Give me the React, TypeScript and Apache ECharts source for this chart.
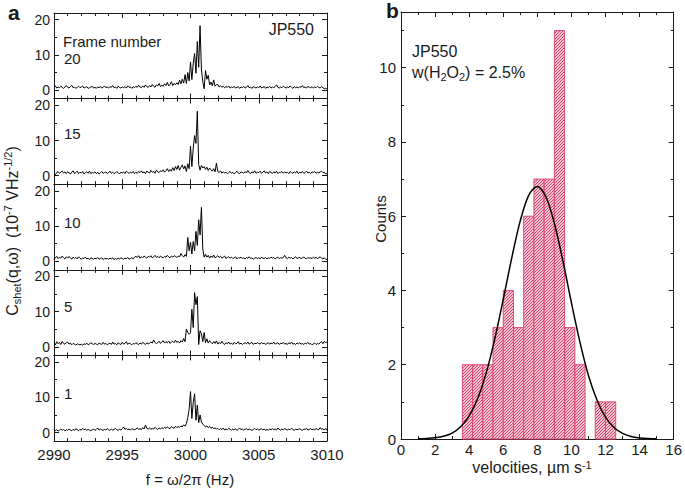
import React, { useEffect, useRef } from 'react';
import * as echarts from 'echarts';

// ---------- Panel a: spectra (frequency grid 2990..3010 Hz, step 0.1 Hz) ----------
const FREQ_START = 2990;
const FREQ_STEP = 0.1;
const FRAME_LABELS = ['20', '15', '10', '5', '1'];

const SPEC_20 = [
  1.0, 1.2, 0.6, 0.9, 0.7, 1.1, 0.8, 0.5, 0.9, 1.3,
  0.8, 0.6, 1.0, 1.4, 0.7, 0.9, 0.5, 0.8, 1.1, 0.7,
  0.9, 1.2, 0.6, 0.8, 1.0, 0.5, 0.7, 0.9, 1.1, 0.6,
  0.8, 0.5, 0.9, 0.7, 1.0, 0.6, 0.8, 1.2, 0.7, 0.9,
  0.6, 1.0, 0.8, 1.3, 0.7, 0.9, 0.5, 1.1, 0.8, 0.6,
  0.9, 0.7, 1.0, 0.6, 1.2, 0.8, 0.9, 0.5, 1.0, 0.7,
  1.1, 0.8, 1.4, 0.9, 0.7, 1.2, 0.8, 1.5, 1.0, 0.8,
  1.3, 0.9, 1.6, 1.1, 0.8, 1.5, 1.2, 1.9, 1.0, 1.4,
  1.1, 1.8, 1.3, 2.2, 1.2, 1.6, 2.4, 1.3, 1.9, 1.5,
  2.1, 1.6, 2.8, 1.8, 3.1, 2.0, 4.4, 1.9, 5.0, 2.6,
  8.0, 3.0, 7.6, 10.4, 4.8, 13.8, 6.5, 18.3, 6.0, 2.4,
  0.4, 5.6, 3.1, 4.2, 1.5, 2.3, 1.2, 2.9, 1.1, 1.6,
  1.6, 0.9, 1.3, 0.8, 1.1, 0.7, 1.0, 0.8, 1.2, 0.6,
  0.9, 0.7, 1.1, 0.6, 0.8, 1.0, 0.5, 0.9, 0.7, 1.1,
  0.6, 0.8, 1.3, 0.7, 0.9, 0.5, 1.0, 0.8, 0.6, 0.9,
  0.7, 1.2, 0.6, 0.8, 1.0, 0.5, 0.9, 0.7, 1.1, 0.6,
  0.9, 0.7, 1.0, 1.5, 0.8, 0.6, 0.9, 0.7, 1.1, 0.8,
  0.6, 0.9, 0.7, 1.2, 0.8, 0.5, 1.0, 0.7, 0.9, 0.6,
  1.0, 0.8, 1.3, 0.7, 0.9, 0.6, 1.1, 0.8, 0.7, 1.0,
  0.6, 0.9, 0.7, 1.1, 0.8, 0.6, 1.0, 0.7, 0.4, 0.5,
  0.3,
];

const SPEC_15 = [
  0.6, 0.3, 0.9, 1.2, 0.7, 1.0, 1.3, 0.8, 1.1, 0.6,
  1.2, 0.8, 0.5, 1.0, 1.4, 0.7, 0.9, 1.3, 0.6, 1.0,
  0.8, 1.2, 0.5, 0.9, 1.1, 0.7, 1.3, 0.6, 0.9, 0.8,
  1.1, 0.6, 1.0, 0.5, 0.8, 1.2, 0.7, 0.9, 1.1, 0.6,
  0.9, 1.3, 0.7, 1.0, 0.6, 0.8, 1.2, 0.9, 0.5, 1.0,
  0.8, 1.1, 0.6, 1.3, 0.9, 0.7, 1.0, 0.8, 1.2, 0.6,
  1.0, 0.7, 1.2, 0.9, 1.4, 0.8, 1.1, 0.6, 1.3, 1.0,
  0.8, 1.5, 1.0, 1.2, 0.7, 1.6, 1.1, 0.9, 1.4, 1.2,
  1.7, 1.0, 1.4, 2.0, 1.2, 1.8, 1.3, 2.3, 1.5, 2.6,
  1.8, 2.9, 1.6, 2.4, 3.1, 1.9, 2.8, 1.2, 3.4, 2.0,
  8.4, 2.6, 7.8, 11.4, 9.2, 18.3, 3.2, 1.6, 2.9, 2.2,
  2.6, 1.8, 2.4, 1.5, 2.2, 1.7, 1.3, 2.0, 1.1, 3.6,
  1.2, 0.9, 1.4, 0.7, 1.1, 0.8, 1.0, 0.6, 0.9, 1.2,
  0.7, 1.0, 0.5, 0.9, 1.3, 0.8, 0.6, 1.1, 0.9, 0.7,
  1.2, 0.8, 1.5, 0.9, 0.6, 1.1, 0.8, 1.4, 0.7, 1.0,
  0.9, 1.3, 0.7, 1.0, 1.4, 0.8, 1.1, 0.6, 1.2, 0.9,
  0.7, 1.1, 0.8, 1.3, 0.6, 1.0, 0.9, 1.2, 0.7, 1.1,
  0.8, 1.0, 0.6, 1.2, 0.9, 0.7, 1.1, 0.8, 1.3, 0.6,
  1.0, 0.8, 1.2, 0.7, 0.9, 1.3, 0.8, 1.0, 0.6, 1.1,
  0.9, 1.2, 0.7, 1.0, 0.8, 1.1, 1.3, 0.9, 1.0, 0.5,
  0.6,
];

const SPEC_10 = [
  0.5, 1.0, 1.4, 0.8, 1.2, 0.9, 1.5, 1.0, 0.7, 1.3,
  0.9, 1.4, 1.0, 0.6, 1.2, 0.8, 1.1, 0.7, 1.3, 0.9,
  0.6, 1.0, 0.8, 1.2, 0.7, 0.9, 0.5, 1.0, 0.8, 0.6,
  0.9, 0.7, 1.1, 0.6, 0.8, 1.0, 0.5, 0.9, 0.7, 0.8,
  0.6, 0.9, 0.7, 1.0, 0.5, 0.8, 0.6, 0.9, 0.7, 1.0,
  0.8, 0.6, 0.9, 0.7, 1.1, 0.6, 0.8, 1.0, 0.7, 1.2,
  1.4, 1.1, 1.6, 0.9, 1.3, 1.0, 1.5, 1.2, 0.9, 1.4,
  1.2, 1.6, 1.0, 1.3, 1.7, 1.1, 1.4, 1.0, 1.5, 1.2,
  1.0, 1.4, 1.2, 1.7, 1.3, 1.0, 1.5, 1.2, 1.6, 1.4,
  1.1, 1.5, 1.3, 2.2, 1.6, 1.2, 1.9, 1.4, 6.8, 3.0,
  5.4, 2.1, 5.6, 3.0, 8.5, 4.5, 11.8, 7.5, 15.3, 3.5,
  1.2, 2.0, 1.2, 1.7, 0.9, 1.5, 1.1, 1.8, 1.0, 1.3,
  1.6, 1.1, 1.4, 0.9, 1.2, 1.5, 0.8, 1.1, 1.3, 0.9,
  1.2, 0.8, 1.0, 1.3, 0.7, 1.1, 0.9, 1.2, 0.8, 1.0,
  0.7, 1.1, 0.9, 1.3, 0.8, 1.0, 0.6, 0.9, 1.1, 0.8,
  1.0, 0.7, 1.2, 0.9, 0.8, 1.1, 0.7, 1.0, 0.8, 1.2,
  0.9, 1.1, 0.7, 1.0, 1.2, 0.8, 1.0, 0.9, 1.1, 1.7,
  1.0, 0.8, 1.2, 0.9, 1.1, 0.7, 1.0, 1.3, 0.8, 1.0,
  1.1, 0.8, 1.0, 1.2, 0.9, 0.7, 1.1, 0.9, 1.0, 0.8,
  1.2, 0.9, 1.1, 0.8, 1.0, 1.3, 0.9, 0.7, 1.0, 0.6,
  0.5,
];

const SPEC_5 = [
  1.2, 0.6, 1.5, 0.9, 1.3, 0.7, 1.6, 1.0, 0.8, 1.2,
  1.4, 0.8, 1.1, 0.6, 1.0, 0.8, 0.5, 0.9, 0.7, 0.6,
  0.8, 0.5, 0.9, 0.7, 1.1, 0.6, 0.8, 1.2, 0.9, 0.7,
  1.0, 0.8, 0.6, 1.1, 0.9, 0.7, 1.3, 0.8, 1.0, 0.6,
  0.9, 1.1, 0.7, 1.4, 0.8, 1.0, 0.6, 1.2, 0.9, 0.7,
  1.3, 0.8, 1.0, 1.5, 0.7, 1.1, 0.9, 0.6, 1.0, 0.8,
  1.2, 0.9, 0.7, 1.1, 0.8, 1.3, 1.0, 0.7, 1.2, 0.9,
  1.0, 1.4, 1.1, 2.0, 1.3, 0.9, 1.2, 1.6, 1.0, 1.4,
  1.8, 1.1, 1.5, 1.2, 1.7, 1.0, 1.4, 1.6, 1.2, 1.9,
  1.3, 1.6, 1.1, 1.8, 1.4, 2.4, 1.5, 5.1, 4.1, 3.6,
  4.0, 10.7, 5.5, 15.4, 12.0, 14.3, 0.7, 4.6, 3.8, 1.5,
  4.1, 1.2, 2.3, 1.1, 1.8, 1.3, 0.9, 1.5, 1.0, 1.7,
  0.8, 1.3, 0.9, 1.6, 1.0, 0.7, 1.2, 0.9, 1.4, 0.8,
  1.1, 0.7, 1.3, 0.9, 1.0, 1.5, 0.8, 1.1, 0.7, 1.0,
  1.2, 0.9, 1.4, 0.8, 1.0, 1.3, 0.7, 1.1, 0.9, 1.2,
  1.0, 0.8, 1.3, 0.9, 1.1, 0.7, 1.0, 1.2, 0.8, 1.1,
  0.9, 1.4, 0.8, 1.0, 1.2, 0.7, 1.1, 0.9, 1.3, 0.8,
  1.0, 0.7, 1.2, 0.9, 1.4, 0.8, 1.0, 0.7, 1.1, 0.9,
  1.2, 0.8, 1.0, 0.7, 1.1, 0.9, 1.3, 0.8, 1.0, 0.6,
  0.9, 1.1, 0.7, 1.0, 0.8, 1.2, 1.5, 0.9, 1.6, 1.2,
  1.4,
];

const SPEC_1 = [
  0.9, 0.5, 0.8, 0.4, 0.7, 1.0, 0.6, 0.9, 0.5, 0.8,
  0.6, 1.0, 0.7, 0.5, 0.9, 0.6, 1.1, 0.8, 0.5, 0.9,
  0.7, 1.2, 0.8, 1.0, 0.6, 0.9, 0.7, 0.5, 0.8, 1.0,
  0.6, 0.9, 1.3, 0.7, 1.0, 0.8, 0.6, 0.9, 0.7, 1.1,
  0.8, 0.6, 1.0, 0.7, 0.9, 1.2, 0.8, 0.6, 1.0, 0.7,
  1.1, 1.6, 0.9, 1.2, 0.8, 1.0, 0.7, 1.1, 0.9, 0.8,
  1.0, 1.3, 0.9, 1.1, 0.8, 1.4, 1.0, 2.1, 1.2, 1.0,
  1.3, 0.9, 1.2, 1.0, 1.5, 1.1, 0.9, 1.3, 1.0, 1.4,
  1.1, 1.5, 1.2, 1.6, 1.3, 1.1, 1.7, 1.4, 1.2, 1.8,
  1.4, 1.7, 1.5, 1.9, 1.6, 2.2, 1.8, 2.5, 4.2, 6.6,
  11.6, 4.0, 8.5, 11.0, 3.5, 7.8, 2.8, 5.0, 3.0, 2.4,
  2.0, 1.6, 1.9, 1.4, 1.7, 1.2, 1.5, 1.1, 1.3, 1.0,
  1.2, 0.8, 1.1, 0.9, 1.3, 0.7, 1.0, 0.8, 1.2, 0.9,
  0.7, 1.0, 0.8, 1.1, 0.6, 0.9, 1.3, 0.8, 1.0, 0.7,
  0.9, 1.1, 0.7, 1.0, 0.8, 0.6, 0.9, 1.2, 0.8, 1.0,
  0.7, 0.9, 1.1, 0.8, 1.0, 0.6, 0.9, 0.7, 1.0, 0.8,
  1.1, 0.8, 1.0, 0.7, 1.3, 0.9, 0.7, 1.0, 0.8, 1.1,
  0.9, 0.7, 1.0, 0.8, 1.2, 0.9, 0.6, 1.0, 0.8, 0.9,
  1.1, 0.8, 0.6, 1.0, 0.9, 1.2, 0.7, 0.9, 1.1, 0.8,
  1.0, 0.7, 1.2, 0.9, 0.8, 1.4, 0.9, 1.1, 0.7, 1.2,
  0.6,
];

const SPECTRA = [SPEC_20, SPEC_15, SPEC_10, SPEC_5, SPEC_1];

const X_TICKS_A = [2990, 2995, 3000, 3005, 3010];
const X_MINOR_A = [2990, 2991, 2992, 2993, 2994, 2995, 2996, 2997, 2998, 2999, 3000,
  3001, 3002, 3003, 3004, 3005, 3006, 3007, 3008, 3009, 3010];
const Y_TICKS_A = [0, 10, 20];
const Y_MINOR_A = [5, 15];

// ---------- Panel b: histogram ----------
const BIN_EDGES = [3.6, 4.2, 4.8, 5.4, 6.0, 6.6, 7.2, 7.8, 8.4, 9.0, 9.6, 10.2, 10.8, 11.4, 12.0, 12.6];
const BIN_COUNTS = [2, 2, 2, 3, 4, 3, 6, 7, 7, 11, 3, 2, 0, 1, 1];
const FIT_X = [1, 1.5, 2, 2.5, 3, 3.5, 4, 4.5, 5, 5.5, 6, 6.5, 7, 7.5, 8, 8.5, 9, 9.5, 10, 10.5,
  11, 11.5, 12, 12.5, 13, 13.5, 14, 14.5, 15];
const FIT_Y = [0.004, 0.012, 0.031, 0.073, 0.16, 0.33, 0.62, 1.09, 1.78, 2.69, 3.76, 4.88, 5.88,
  6.57, 6.80, 6.53, 5.81, 4.80, 3.67, 2.61, 1.71, 1.05, 0.59, 0.31, 0.15, 0.068, 0.029, 0.011, 0.004];
const X_TICKS_B = [0, 2, 4, 6, 8, 10, 12, 14, 16];
const X_MINOR_B = [1, 3, 5, 7, 9, 11, 13, 15];
const Y_TICKS_B = [0, 2, 4, 6, 8, 10];
const Y_MINOR_B = [1, 3, 5, 7, 9, 11];

const FONT = '"Liberation Sans", Arial, Helvetica, sans-serif';
const INK = '#1a1a1a';

function mkAxis(opts: any) {
  const { gridIndex, position, min, max, ticks, len, line, labels, labelMargin, fontSize, lineHeight } = opts;
  return {
    type: 'value',
    gridIndex,
    position,
    min,
    max,
    axisLine: { show: !!line, onZero: false, lineStyle: { color: INK, width: 1 } },
    axisTick: { show: true, inside: true, length: len, customValues: ticks, lineStyle: { color: INK, width: 1 } },
    axisLabel: labels
      ? {
          show: true,
          customValues: labels,
          margin: labelMargin,
          color: INK,
          fontSize: fontSize || 15,
          lineHeight: lineHeight || undefined,
          fontFamily: FONT,
          formatter: (v: number) => String(v),
        }
      : { show: false },
    splitLine: { show: false },
    minorTick: { show: false },
  };
}

export default function App() {
  const ref = useRef<HTMLDivElement>(null);
  useEffect(() => {
    const chart = echarts.init(ref.current!, null, { renderer: 'svg' });

    const cv = document.createElement('canvas');
    cv.width = 3;
    cv.height = 3;
    const ctx = cv.getContext('2d')!;
    ctx.fillStyle = '#f6c3d1';
    ctx.fillRect(0, 0, 3, 3);
    ctx.fillStyle = '#d8436f';
    ctx.fillRect(2, 0, 1, 1);
    ctx.fillRect(1, 1, 1, 1);
    ctx.fillRect(0, 2, 1, 1);
    const pattern: any = { image: cv, repeat: 'repeat', imageWidth: 3, imageHeight: 3 };

    const grids: any[] = [];
    const xAxes: any[] = [];
    const yAxes: any[] = [];
    const series: any[] = [];

    const A_LEFT = 54, A_WIDTH = 273, A_TOP = 13, A_H = 85.6;
    const Y_MIN_A = -2.4, Y_MAX_A = 21.9;

    for (let i = 0; i < 5; i++) {
      grids.push({ left: A_LEFT, width: A_WIDTH, top: A_TOP + i * A_H, height: A_H, containLabel: false });
      const last = i === 4;
      const xi = xAxes.length;
      xAxes.push(mkAxis({ gridIndex: i, position: 'bottom', min: 2990, max: 3010, ticks: X_TICKS_A, len: 5, line: true,
        labels: last ? X_TICKS_A : null, labelMargin: 6, fontSize: 15 }));
      xAxes.push(mkAxis({ gridIndex: i, position: 'bottom', min: 2990, max: 3010, ticks: X_MINOR_A, len: 3 }));
      xAxes.push(mkAxis({ gridIndex: i, position: 'top', min: 2990, max: 3010, ticks: X_TICKS_A, len: 5, line: true }));
      xAxes.push(mkAxis({ gridIndex: i, position: 'top', min: 2990, max: 3010, ticks: X_MINOR_A, len: 3 }));
      const yi = yAxes.length;
      yAxes.push(mkAxis({ gridIndex: i, position: 'left', min: Y_MIN_A, max: Y_MAX_A, ticks: Y_TICKS_A, len: 5, line: true,
        labels: Y_TICKS_A, labelMargin: 4, fontSize: 14, lineHeight: 12 }));
      yAxes.push(mkAxis({ gridIndex: i, position: 'left', min: Y_MIN_A, max: Y_MAX_A, ticks: Y_MINOR_A, len: 3 }));
      yAxes.push(mkAxis({ gridIndex: i, position: 'right', min: Y_MIN_A, max: Y_MAX_A, ticks: Y_TICKS_A, len: 5, line: true }));
      yAxes.push(mkAxis({ gridIndex: i, position: 'right', min: Y_MIN_A, max: Y_MAX_A, ticks: Y_MINOR_A, len: 3 }));

      series.push({
        type: 'line',
        xAxisIndex: xi,
        yAxisIndex: yi,
        data: SPECTRA[i].map((v, k) => [FREQ_START + k * FREQ_STEP, v]),
        showSymbol: false,
        symbol: 'none',
        silent: true,
        lineStyle: { color: '#000', width: 1 },
      });
    }

    // Panel b
    grids.push({ left: 401, right: 9, top: 12, bottom: 49 });
    const gb = 5;
    const xb = xAxes.length;
    xAxes.push(mkAxis({ gridIndex: gb, position: 'bottom', min: 0, max: 16, ticks: X_TICKS_B, len: 5, line: true,
      labels: X_TICKS_B, labelMargin: 3, fontSize: 15 }));
    xAxes.push(mkAxis({ gridIndex: gb, position: 'bottom', min: 0, max: 16, ticks: X_MINOR_B, len: 3 }));
    xAxes.push(mkAxis({ gridIndex: gb, position: 'top', min: 0, max: 16, ticks: X_TICKS_B, len: 5, line: true }));
    xAxes.push(mkAxis({ gridIndex: gb, position: 'top', min: 0, max: 16, ticks: X_MINOR_B, len: 3 }));
    const yb = yAxes.length;
    yAxes.push(mkAxis({ gridIndex: gb, position: 'left', min: 0, max: 11.5, ticks: Y_TICKS_B, len: 5, line: true,
      labels: Y_TICKS_B, labelMargin: 5, fontSize: 15 }));
    yAxes.push(mkAxis({ gridIndex: gb, position: 'left', min: 0, max: 11.5, ticks: Y_MINOR_B, len: 3 }));
    yAxes.push(mkAxis({ gridIndex: gb, position: 'right', min: 0, max: 11.5, ticks: Y_TICKS_B, len: 5, line: true }));
    yAxes.push(mkAxis({ gridIndex: gb, position: 'right', min: 0, max: 11.5, ticks: Y_MINOR_B, len: 3 }));

    series.push({
      type: 'custom',
      xAxisIndex: xb,
      yAxisIndex: yb,
      silent: true,
      data: BIN_COUNTS.map((c, i) => [BIN_EDGES[i], BIN_EDGES[i + 1], c]),
      encode: { x: [0, 1], y: 2 },
      renderItem: (params: any, api: any) => {
        const x0 = api.value(0);
        const x1 = api.value(1);
        const c = api.value(2);
        if (!c) return null;
        const p0 = api.coord([x0, c]);
        const p1 = api.coord([x1, 0]);
        return {
          type: 'rect',
          shape: { x: p0[0], y: p0[1], width: p1[0] - p0[0], height: p1[1] - p0[1] },
          style: { fill: pattern, stroke: '#dc4a76', lineWidth: 1 },
        };
      },
      z: 2,
    });
    series.push({
      type: 'line',
      xAxisIndex: xb,
      yAxisIndex: yb,
      data: FIT_X.map((x, i) => [x, FIT_Y[i]]),
      smooth: 0.3,
      showSymbol: false,
      symbol: 'none',
      silent: true,
      lineStyle: { color: '#000', width: 1.5 },
      z: 5,
    });

    const txt = (x: number, y: number, text: string, extra: any = {}) => ({
      type: 'text',
      x,
      y,
      silent: true,
      style: {
        text,
        fill: INK,
        fontSize: 15,
        lineHeight: 14,
        fontFamily: FONT,
        textAlign: 'left',
        textVerticalAlign: 'middle',
        ...extra,
      },
    });

    const frameYs = [58, 133, 222, 306, 393];
    const graphic: any[] = [
      txt(8, 12, 'a', { fontSize: 21, lineHeight: 21, fontWeight: 'bold' }),
      txt(386, 10, 'b', { fontSize: 21, lineHeight: 21, fontWeight: 'bold' }),
      txt(63, 41, 'Frame number'),
      txt(314, 29, 'JP550', { textAlign: 'right', fontSize: 16 }),
      ...FRAME_LABELS.map((f, i) => txt(64, frameYs[i], f)),
      txt(190, 479, 'f = ω/2π (Hz)', { textAlign: 'center' }),
      {
        type: 'text',
        x: 12,
        y: 231,
        rotation: Math.PI / 2,
        silent: true,
        style: {
          text: '{n|C}{sub|shet}{n|(q,ω)  (10}{sup|-7}{n| VHz}{sup|-1/2}{n|)}',
          fill: INK,
          textAlign: 'center',
          textVerticalAlign: 'middle',
          rich: {
            n: { fontSize: 16, fontFamily: FONT, lineHeight: 20, fill: INK },
            sub: { fontSize: 11, fontFamily: FONT, lineHeight: 10, verticalAlign: 'bottom', fill: INK },
            sup: { fontSize: 11, fontFamily: FONT, lineHeight: 10, verticalAlign: 'top', fill: INK },
          },
        },
      },
      txt(412, 51, 'JP550', { fontSize: 16 }),
      {
        type: 'text',
        x: 412,
        y: 72,
        silent: true,
        style: {
          text: '{n|w(H}{sub|2}{n|O}{sub|2}{n|) = 2.5%}',
          fill: INK,
          textAlign: 'left',
          textVerticalAlign: 'middle',
          rich: {
            n: { fontSize: 16, fontFamily: FONT, lineHeight: 20, fill: INK },
            sub: { fontSize: 11, fontFamily: FONT, lineHeight: 11, verticalAlign: 'bottom', fill: INK },
          },
        },
      },
      {
        type: 'text',
        x: 532,
        y: 467,
        silent: true,
        style: {
          text: '{n|velocities, µm s}{sup|-1}',
          fill: INK,
          textAlign: 'center',
          textVerticalAlign: 'middle',
          rich: {
            n: { fontSize: 16, fontFamily: FONT, lineHeight: 16, fill: INK },
            sup: { fontSize: 11, fontFamily: FONT, lineHeight: 9, verticalAlign: 'top', fill: INK },
          },
        },
      },
      {
        type: 'text',
        x: 380,
        y: 219,
        rotation: Math.PI / 2,
        silent: true,
        style: {
          text: 'Counts',
          fill: INK,
          fontSize: 15,
          fontFamily: FONT,
          textAlign: 'center',
          textVerticalAlign: 'middle',
        },
      },
    ];

    chart.setOption({
      animation: false,
      backgroundColor: '#ffffff',
      grid: grids,
      xAxis: xAxes,
      yAxis: yAxes,
      series,
      graphic,
    });
    return () => chart.dispose();
  }, []);
  return <div ref={ref} style={{ position: 'fixed', left: 0, top: 0, width: 685, height: 488 }} />;
}
